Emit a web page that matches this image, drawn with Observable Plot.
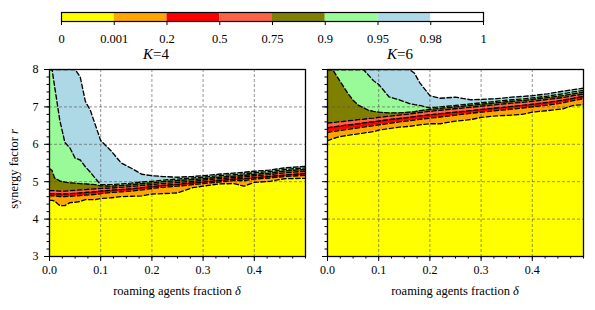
<!DOCTYPE html>
<html><head><meta charset="utf-8">
<script src="https://cdn.jsdelivr.net/npm/d3@7"></script>
<script src="https://cdn.jsdelivr.net/npm/@observablehq/plot@0.6"></script>
<style>
body{margin:0;background:#fff;width:595px;height:310px;position:relative;overflow:hidden;font-family:"Liberation Serif",serif;color:#000;}
#cb,#p4,#p6{position:absolute;}
#cb{left:0;top:0}
#p4{left:0;top:62px}
#p6{left:312px;top:62px}
.title{position:absolute;font-size:15px;line-height:15px;transform:translateX(-50%);top:47px;white-space:nowrap;}
.xl{position:absolute;font-size:12.5px;line-height:13px;transform:translateX(-50%);top:285px;white-space:nowrap;}
.yl{position:absolute;font-size:12.5px;line-height:13px;left:14px;top:169px;transform:translate(-50%,-50%) rotate(-90deg);white-space:nowrap;}
</style></head><body>
<div id="cb"></div><div id="p4"></div><div id="p6"></div>
<div class="title" style="left:156px"><i>K</i>=4</div>
<div class="title" style="left:400px"><i>K</i>=6</div>
<div class="xl" style="left:177px">roaming agents fraction <i>δ</i></div>
<div class="xl" style="left:455px">roaming agents fraction <i>δ</i></div>
<div class="yl">synergy factor <i>r</i></div>
<script>
// colour levels
const levelLabels = ["0","0.001","0.2","0.5","0.75","0.9","0.95","0.98","1"];
const levelColors = ["#ffff00","#ffa500","#ff0000","#ff6347","#808000","#98fb98","#add8e6","#ffffff"];

// axes
const xMajor = [0, 0.1, 0.2, 0.3, 0.4];
const xMinor = d3.range(0, 0.5001, 0.025);
const yMajor = [3, 4, 5, 6, 7, 8];
const yMinor = d3.range(3, 8.001, 0.2);
const xDomain = [0, 0.5];
const yDomain = [3, 8];

// K=4 : contour boundaries r(delta) for levels 0.001,0.2,0.5,0.75,0.9,0.95,0.98
const delta4 = [0, 0.005, 0.01, 0.02, 0.03, 0.04, 0.05, 0.06, 0.07, 0.08, 0.09, 0.1, 0.12, 0.14, 0.16, 0.18, 0.2, 0.22, 0.25, 0.28, 0.3, 0.33, 0.36, 0.38, 0.4, 0.43, 0.46, 0.5];
const k4_001 = [4.50, 4.50, 4.48, 4.36, 4.36, 4.44, 4.45, 4.47, 4.52, 4.52, 4.52, 4.55, 4.57, 4.60, 4.61, 4.62, 4.67, 4.68, 4.70, 4.84, 4.88, 4.94, 4.95, 4.88, 4.98, 5.01, 5.08, 5.09];
const k4_02  = [4.62, 4.62, 4.62, 4.60, 4.60, 4.61, 4.62, 4.63, 4.64, 4.65, 4.66, 4.68, 4.71, 4.73, 4.75, 4.78, 4.82, 4.85, 4.88, 4.92, 4.95, 4.99, 5.03, 5.03, 5.07, 5.10, 5.14, 5.17];
const k4_05  = [4.68, 4.68, 4.68, 4.67, 4.67, 4.68, 4.69, 4.70, 4.71, 4.72, 4.73, 4.75, 4.77, 4.79, 4.81, 4.84, 4.87, 4.90, 4.93, 4.97, 4.99, 5.03, 5.07, 5.08, 5.11, 5.14, 5.18, 5.22];
const k4_075 = [4.76, 4.76, 4.76, 4.75, 4.75, 4.76, 4.77, 4.78, 4.79, 4.80, 4.81, 4.82, 4.83, 4.85, 4.87, 4.90, 4.92, 4.95, 4.98, 5.01, 5.04, 5.08, 5.11, 5.13, 5.16, 5.19, 5.24, 5.28];
const k4_09  = [5.35, 5.30, 5.10, 5.02, 4.99, 4.97, 4.96, 4.95, 4.94, 4.93, 4.92, 4.89, 4.88, 4.90, 4.92, 4.95, 4.97, 5.00, 5.03, 5.06, 5.08, 5.12, 5.15, 5.17, 5.20, 5.23, 5.29, 5.33];
const k4_095 = [8, 8, 7.55, 6.65, 6.05, 5.90, 5.63, 5.58, 5.40, 5.25, 5.08, 4.92, 4.92, 4.94, 4.96, 4.99, 5.01, 5.04, 5.07, 5.10, 5.12, 5.16, 5.19, 5.21, 5.24, 5.27, 5.33, 5.37];
const k4_098 = [8, 8, 8, 8, 8, 8, 8, 7.80, 7.15, 6.90, 6.50, 6.10, 5.83, 5.50, 5.36, 5.20, 5.16, 5.14, 5.12, 5.14, 5.16, 5.20, 5.23, 5.25, 5.28, 5.31, 5.37, 5.41];

// K=6
const delta6 = [0, 0.01, 0.02, 0.03, 0.04, 0.05, 0.06, 0.07, 0.08, 0.09, 0.1, 0.12, 0.14, 0.16, 0.17, 0.18, 0.2, 0.22, 0.25, 0.28, 0.3, 0.33, 0.36, 0.38, 0.4, 0.43, 0.46, 0.48, 0.5];
const k6_001 = [6.10, 6.15, 6.19, 6.22, 6.24, 6.26, 6.28, 6.30, 6.32, 6.34, 6.38, 6.42, 6.46, 6.48, 6.50, 6.52, 6.55, 6.55, 6.62, 6.66, 6.72, 6.76, 6.78, 6.80, 6.86, 6.90, 6.95, 7.04, 7.06];
const k6_02  = [6.32, 6.34, 6.36, 6.38, 6.40, 6.42, 6.44, 6.46, 6.48, 6.50, 6.52, 6.56, 6.60, 6.63, 6.65, 6.67, 6.70, 6.73, 6.78, 6.83, 6.86, 6.90, 6.94, 6.97, 7.00, 7.05, 7.11, 7.17, 7.22];
const k6_05  = [6.44, 6.46, 6.48, 6.50, 6.52, 6.53, 6.55, 6.57, 6.59, 6.60, 6.62, 6.66, 6.69, 6.72, 6.74, 6.76, 6.79, 6.82, 6.86, 6.90, 6.93, 6.97, 7.01, 7.04, 7.07, 7.12, 7.18, 7.23, 7.28];
const k6_075 = [6.57, 6.58, 6.60, 6.61, 6.63, 6.64, 6.66, 6.67, 6.69, 6.70, 6.72, 6.75, 6.78, 6.81, 6.83, 6.85, 6.88, 6.91, 6.95, 6.99, 7.02, 7.06, 7.10, 7.12, 7.15, 7.20, 7.25, 7.30, 7.34];
const k6_09  = [8, 8, 7.78, 7.57, 7.36, 7.18, 7.05, 6.98, 6.91, 6.88, 6.86, 6.84, 6.84, 6.86, 6.87, 6.90, 6.93, 6.96, 7.00, 7.04, 7.07, 7.11, 7.15, 7.17, 7.20, 7.25, 7.30, 7.35, 7.39];
const k6_095 = [8, 8, 8, 8, 8, 8, 8, 8, 7.85, 7.70, 7.60, 7.27, 7.19, 7.09, 7.06, 7.04, 6.97, 7.00, 7.04, 7.08, 7.11, 7.15, 7.19, 7.21, 7.24, 7.29, 7.35, 7.40, 7.44];
const k6_098 = [8, 8, 8, 8, 8, 8, 8, 8, 8, 8, 8, 8, 8, 8, 7.90, 7.65, 7.30, 7.23, 7.26, 7.19, 7.20, 7.22, 7.26, 7.28, 7.30, 7.35, 7.42, 7.46, 7.50];

const font = {fontFamily: "'Liberation Serif', serif", fontSize: "12px", background: "transparent", color: "black", overflow: "visible"};

function panel(deltas, bounds, showY, o) {
  const rows = deltas.map((d, i) => ({delta: d, b: [yDomain[0], ...bounds.map(b => b[i])]}));
  const marks = [];
  for (let k = 0; k < 8; k++) {
    marks.push(Plot.areaY(rows, {x: "delta", y1: d => d.b[k], y2: () => yDomain[1], fill: levelColors[k]}));
  }
  marks.push(Plot.gridX(xMajor.slice(1), {stroke: "#555", strokeOpacity: 0.9, strokeWidth: 0.7, strokeDasharray: "3,2"}));
  marks.push(Plot.gridY(yMajor.slice(1, -1), {stroke: "#555", strokeOpacity: 0.9, strokeWidth: 0.7, strokeDasharray: "3,2"}));
  for (let k = 1; k < 8; k++) {
    marks.push(Plot.line(rows, {x: "delta", y: d => d.b[k], stroke: "black", strokeWidth: 1.35, strokeDasharray: "4.5,2.5", clip: true}));
  }
  marks.push(Plot.frame({stroke: "black", strokeWidth: 1.3}));
  marks.push(Plot.axisX(xMinor, {tickSize: 2.5, tickFormat: () => "", label: null}));
  marks.push(Plot.axisX(xMajor, {tickSize: 5, tickPadding: 4, tickFormat: d => d.toFixed(1), label: null, fontSize: 12}));
  marks.push(Plot.axisY(yMinor, {tickSize: 2.5, tickFormat: () => "", label: null}));
  marks.push(Plot.axisY(yMajor, {tickSize: 5, tickPadding: 6, tickFormat: showY ? (d => String(d)) : (() => ""), label: null, fontSize: 12}));
  return Plot.plot({
    width: o.width, height: 248,
    marginLeft: o.ml, marginRight: o.mr, marginTop: 7, marginBottom: 54,
    x: {domain: xDomain, axis: null},
    y: {domain: yDomain, axis: null},
    style: font,
    marks
  });
}

document.getElementById("p4").append(panel(delta4, [k4_001, k4_02, k4_05, k4_075, k4_09, k4_095, k4_098], true, {width: 312, ml: 49, mr: 7}));
document.getElementById("p6").append(panel(delta6, [k6_001, k6_02, k6_05, k6_075, k6_09, k6_095, k6_098], false, {width: 283, ml: 15, mr: 12}));

// colour bar
const idx = d3.range(levelColors.length);
const cb = Plot.plot({
  width: 595, height: 62,
  marginLeft: 61, marginRight: 112, marginTop: 12, marginBottom: 41,
  x: {domain: [0, levelColors.length], axis: null},
  y: {domain: [0, 1], axis: null},
  style: font,
  marks: [
    Plot.rect(idx, {x1: i => i, x2: i => i + 1, y1: () => 0, y2: () => 1, fill: i => levelColors[i]}),
    Plot.frame({stroke: "black", strokeWidth: 1.2}),
    Plot.axisX(d3.range(levelLabels.length), {tickSize: 4, tickPadding: 9, tickFormat: i => levelLabels[i], label: null, fontSize: 12.5})
  ]
});
document.getElementById("cb").append(cb);
</script>
</body></html>
